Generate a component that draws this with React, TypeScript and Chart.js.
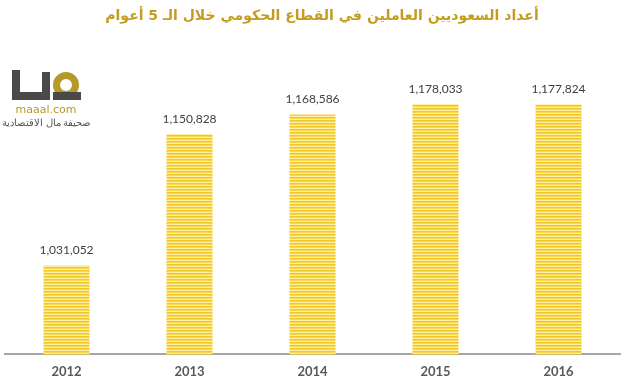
import React, { useEffect, useRef } from "react";
import { Chart, registerables } from "chart.js";

Chart.register(...registerables);

const categories = ["2012", "2013", "2014", "2015", "2016"];
const employees = [1031052, 1150828, 1168586, 1178033, 1177824];
const titleText = "أعداد السعوديين العاملين في القطاع الحكومي خلال الـ 5 أعوام";

function makePattern(): CanvasPattern | string {
  const c = document.createElement("canvas");
  c.width = 4;
  c.height = 3;
  const g = c.getContext("2d");
  if (!g) return "#F6D044";
  g.fillStyle = "#F3C62A";
  g.fillRect(0, 0, 4, 1);
  g.fillStyle = "#F7D650";
  g.fillRect(0, 1, 4, 1);
  g.fillStyle = "#FCEFA6";
  g.fillRect(0, 2, 4, 1);
  const p = g.createPattern(c, "repeat");
  return p || "#F6D044";
}

const decorPlugin = {
  id: "decor",
  afterDraw(chart: any) {
    const ctx = chart.ctx as CanvasRenderingContext2D;
    ctx.save();
    // title
    ctx.fillStyle = "#C49C1E";
    ctx.font = "bold 14px 'DejaVu Sans'";
    ctx.textAlign = "center";
    ctx.textBaseline = "middle";
    ctx.direction = "rtl";
    ctx.fillText(titleText, 322, 16);
    ctx.direction = "ltr";
    // logo
    ctx.fillStyle = "#4a4a4a";
    ctx.fillRect(12, 70, 8, 30);
    ctx.fillRect(12, 92, 38, 8);
    ctx.fillRect(42, 72, 8, 28);
    ctx.fillStyle = "#B59A2A";
    ctx.beginPath();
    ctx.arc(66, 85, 13, 0, Math.PI * 2);
    ctx.fill();
    ctx.fillStyle = "#ffffff";
    ctx.beginPath();
    ctx.arc(66, 85, 6, 0, Math.PI * 2);
    ctx.fill();
    ctx.fillStyle = "#4a4a4a";
    ctx.fillRect(53, 92, 28, 8);
    ctx.fillStyle = "#B59A2A";
    ctx.font = "11px 'DejaVu Sans'";
    ctx.textAlign = "center";
    ctx.fillText("maaal.com", 46, 110);
    ctx.fillStyle = "#555555";
    ctx.font = "10px 'Noto Sans'";
    ctx.direction = "rtl";
    ctx.fillText("صحيفة مال الاقتصادية", 46, 123);
    ctx.direction = "ltr";
    // value labels
    const meta = chart.getDatasetMeta(0);
    ctx.fillStyle = "#404040";
    ctx.font = "12px Lato";
    ctx.textAlign = "center";
    ctx.textBaseline = "middle";
    meta.data.forEach((bar: any, i: number) => {
      ctx.fillText(employees[i].toLocaleString("en-US"), bar.x, bar.y - 15);
    });
    ctx.restore();
  },
};

export default function App() {
  const ref = useRef<HTMLCanvasElement>(null);
  useEffect(() => {
    document.body.style.margin = "0";
    const canvas = ref.current;
    if (!canvas) return;
    const chart = new Chart(canvas, {
      type: "bar",
      data: {
        labels: categories,
        datasets: [
          {
            data: employees,
            backgroundColor: makePattern() as any,
            barPercentage: 0.374,
            categoryPercentage: 1,
          },
        ],
      },
      options: {
        animation: false,
        responsive: false,
        maintainAspectRatio: false,
        layout: { padding: { top: 80, left: 5, right: 6, bottom: 3 } },
        plugins: {
          legend: { display: false },
          tooltip: { enabled: false },
          title: { display: false },
        },
        scales: {
          x: {
            grid: { display: false },
            border: { display: true, color: "#A6A6A6", width: 2 },
            ticks: {
              color: "#595959",
              padding: 2,
              font: { family: "Lato", size: 13, weight: "bold" },
            },
          },
          y: {
            display: false,
            min: 950000,
            max: 1200000,
          },
        },
      },
      plugins: [decorPlugin],
    });
    return () => chart.destroy();
  }, []);
  return <canvas ref={ref} width={626} height={385} style={{ display: "block" }} />;
}
